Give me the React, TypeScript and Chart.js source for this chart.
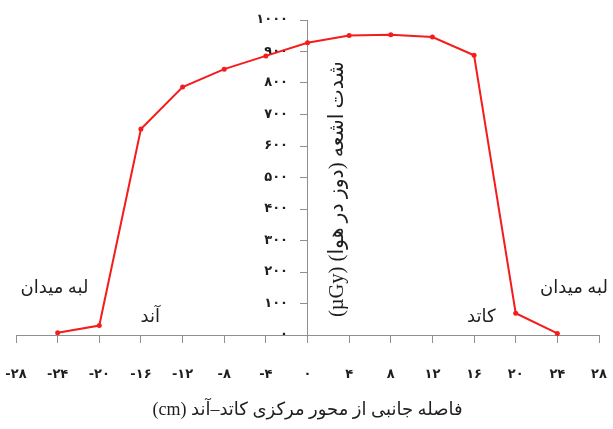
import React, { useEffect, useRef } from "react";
import { Chart, registerables } from "chart.js";

Chart.register(...registerables);

// ---- data ----
const positionsCm = [-24, -20, -16, -12, -8, -4, 0, 4, 8, 12, 16, 20, 24];
const doseValues = [7, 30, 654, 787, 844, 886, 928, 951, 953, 946, 888, 69, 5];

const xMin = -28;
const xMax = 28;
const xStep = 4;
const yMin = 0;
const yMax = 1000;
const yStep = 100;

const xTitle = "فاصله جانبی از محور مرکزی کاتد–آند (cm)";
const yTitle = "شدت اشعه (دوز در هوا) (µGy)";
const noteTexts = ["لبه میدان", "آند", "کاتد", "لبه میدان"];
const noteX = [-24.3, -15.1, 16.7, 25.6];
const noteY = [149, 57, 57, 149];

const faDigits = "۰۱۲۳۴۵۶۷۸۹";
const toFa = (v: number | string) =>
  String(v).replace(/\d/g, (d) => faDigits[Number(d)]);

const AXIS_COLOR = "#8f8f8f";
const TEXT_COLOR = "#1e1e1e";
const RED = "#f51c1c";
const PERSIAN_FONT = "'Liberation Serif', 'DejaVu Sans', serif";

const textPlugin = {
  id: "persianText",
  afterDraw(chart: any) {
    const ctx = chart.ctx as CanvasRenderingContext2D;
    const xs = chart.scales.x;
    const ys = chart.scales.y;
    ctx.save();
    ctx.fillStyle = TEXT_COLOR;
    ctx.direction = "rtl";
    ctx.textAlign = "center";
    ctx.textBaseline = "middle";

    // annotations
    ctx.font = `18px ${PERSIAN_FONT}`;
    noteTexts.forEach((t, i) => {
      ctx.fillText(t, xs.getPixelForValue(noteX[i]), ys.getPixelForValue(noteY[i]));
    });

    // x title
    ctx.font = `18px ${PERSIAN_FONT}`;
    ctx.fillText(xTitle, xs.getPixelForValue(0), chart.chartArea.bottom + 75);

    // y title (rotated)
    ctx.save();
    ctx.translate(xs.getPixelForValue(0) + 30, ys.getPixelForValue(463));
    ctx.rotate(-Math.PI / 2);
    ctx.font = `20.5px ${PERSIAN_FONT}`;
    ctx.fillText(yTitle, 0, 0);
    ctx.restore();

    ctx.restore();
  },
};

export default function App() {
  const canvasRef = useRef<HTMLCanvasElement | null>(null);

  useEffect(() => {
    if (!canvasRef.current) return;
    const chart = new Chart(canvasRef.current, {
      type: "line",
      data: {
        datasets: [
          {
            data: positionsCm.map((x, i) => ({ x, y: doseValues[i] })),
            borderColor: RED,
            backgroundColor: RED,
            borderWidth: 2,
            pointRadius: 2.5,
            pointHoverRadius: 2.5,
            pointBorderWidth: 0,
            tension: 0,
            clip: false as any,
          },
        ],
      },
      options: {
        responsive: false,
        animation: false,
        events: [],
        layout: { padding: { left: 16, right: 14, top: 20, bottom: 0 } },
        plugins: {
          legend: { display: false },
          tooltip: { enabled: false },
          title: { display: false },
        },
        scales: {
          x: {
            type: "linear",
            position: "bottom",
            min: xMin,
            max: xMax,
            afterFit: (s: any) => {
              s.height = 94;
              s.paddingLeft = 0;
              s.paddingRight = 0;
            },
            ticks: {
              stepSize: xStep,
              autoSkip: false,
              maxRotation: 0,
              padding: 24,
              color: TEXT_COLOR,
              font: { family: "'DejaVu Sans'", size: 13, weight: "bold" },
              callback: (v: any) => toFa(v),
            },
            grid: {
              drawOnChartArea: false,
              drawTicks: true,
              tickLength: 8,
              color: AXIS_COLOR,
            },
            border: { display: true, color: AXIS_COLOR, width: 1 },
          },
          y: {
            type: "linear",
            position: { x: 0 } as any,
            min: yMin,
            max: yMax,
            afterFit: (s: any) => {
              s.paddingTop = 0;
              s.paddingBottom = 0;
            },
            ticks: {
              stepSize: yStep,
              padding: 10,
              color: TEXT_COLOR,
              font: { family: "'DejaVu Sans'", size: 13, weight: "bold" },
              callback: (v: any) => toFa(v) + "\u2003\u2002",
            },
            grid: {
              drawOnChartArea: false,
              drawTicks: true,
              tickLength: 7,
              color: AXIS_COLOR,
            },
            border: { display: true, color: AXIS_COLOR, width: 1 },
          },
        },
      },
      plugins: [textPlugin],
    });
    return () => chart.destroy();
  }, []);

  return (
    <div style={{ position: "absolute", left: 0, top: 0, width: 613, height: 429, background: "#fff" }}>
      <canvas ref={canvasRef} width={613} height={429} />
    </div>
  );
}
